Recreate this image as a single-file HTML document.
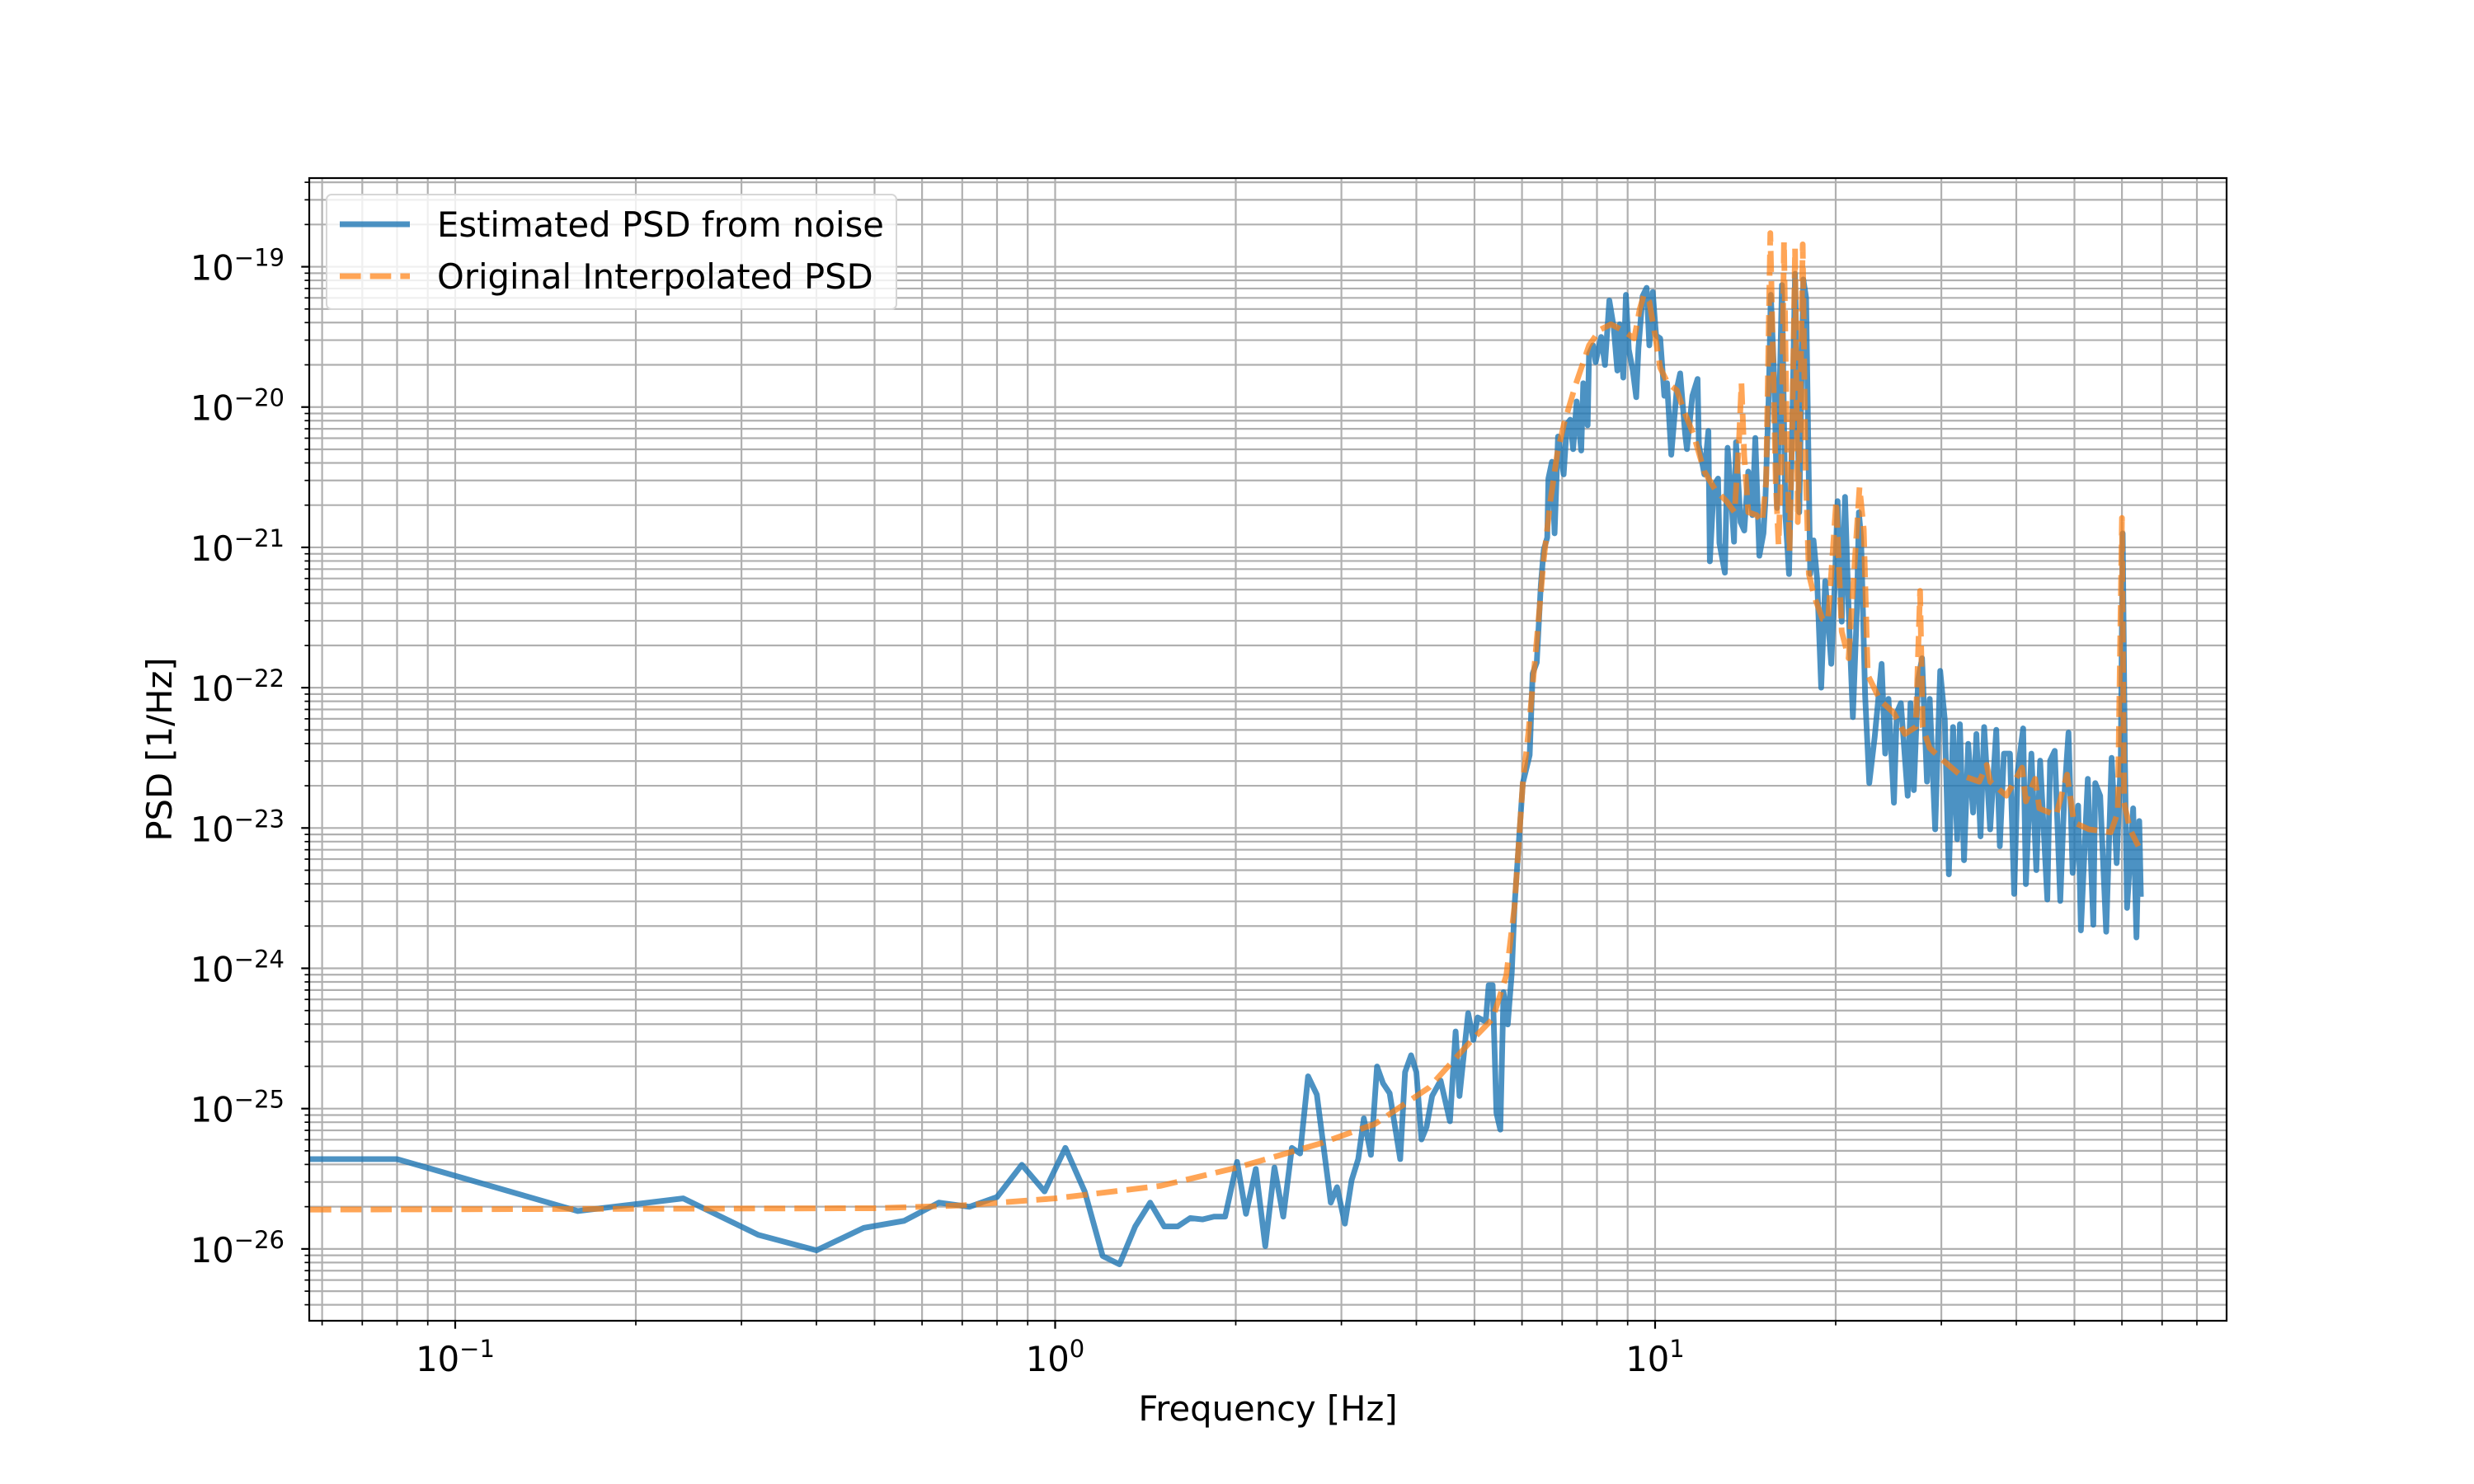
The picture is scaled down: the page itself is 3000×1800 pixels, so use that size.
<!DOCTYPE html>
<html><head><meta charset="utf-8"><style>
html,body{margin:0;padding:0;background:#fff;}
svg{display:block;font-family:"DejaVu Sans","Liberation Sans",sans-serif;}
</style></head><body>
<svg id="chart" width="3000" height="1800" viewBox="0 0 3000 1800" xmlns="http://www.w3.org/2000/svg">
<rect x="0" y="0" width="3000" height="1800" fill="#fff"/>
<g id="grid"></g>
<g id="plot" clip-path="url(#clip)"></g>
<defs><clipPath id="clip"><rect x="375" y="216" width="2325" height="1386"/></clipPath></defs>
<g id="ticks"></g>
<rect x="375" y="216" width="2325" height="1386" fill="none" stroke="#000" stroke-width="2.2"/>
<text x="1537.5" y="1723" font-size="41.7" text-anchor="middle">Frequency [Hz]</text>
<text x="0" y="0" font-size="41.7" text-anchor="middle" transform="translate(208,909) rotate(-90)">PSD [1/Hz]</text>
<g>
<rect x="396" y="236" width="691" height="139" rx="6" fill="#fff" fill-opacity="0.8" stroke="#d6d6d6" stroke-width="2"/>
<line x1="412" y1="272" x2="497" y2="272" stroke="#1f77b4" stroke-opacity="0.8" stroke-width="6.9"/>
<text x="530" y="287" font-size="41.7">Estimated PSD from noise</text>
<line x1="412" y1="335" x2="497" y2="335" stroke="#ff7f0e" stroke-opacity="0.7" stroke-width="6.9" stroke-dasharray="25.6,11.1"/>
<text x="530" y="350" font-size="41.7">Original Interpolated PSD</text>
</g>
</svg>
<script>
const blueFreq=[0.0573,0.08,0.16,0.24,0.32,0.40,0.48,0.56,0.64,0.72,0.80,0.88,0.96,1.04,1.12,1.20,1.28,1.36,1.44,1.52,1.60,1.68,1.76,1.84,1.92,
2.01,2.08,2.16,2.24,2.32,2.40,2.48,2.56,2.64,2.73,2.88,2.95,3.04,3.12,3.20,3.27,3.36,3.44,3.52,3.61,3.76,3.83,3.92,4.00,4.08,4.16,4.25,4.39,4.55,4.65,4.72,4.88,4.98,5.06,5.22,5.28,5.36,5.44,5.52,5.59,5.68,5.77,5.83,
6.02,6.18,6.25,6.35,6.45,6.52,6.61,6.64,6.73,6.80,6.89,7.04,7.13,7.22,7.30,7.40,7.53,7.59,7.72,7.76,7.88,7.96,8.05,8.13,8.25,8.39,8.53,8.65,8.73,8.85,8.94,9.04,9.18,9.30,9.38,9.53,9.68,9.78,9.91,10.04,10.20,10.36,10.47,10.64,10.87,11.01,11.22,11.30,11.54,11.77,11.83,12.08,12.27,12.34,12.53,12.73,12.80,13.07,13.21,13.35,13.54,13.64,13.88,14.08,14.30,14.53,14.69,14.92,15.16,15.27,15.48,15.59,15.81,15.97,16.27,16.49,16.72,16.93,17.11,17.39,17.66,17.85,18.14,18.37,18.62,18.92,19.21,19.66,19.94,20.15,20.47,20.73,21.02,21.36,21.70,21.86,22.04,22.39,22.75,23.23,23.86,24.18,24.49,25.01,25.28,25.68,26.37,26.65,26.99,27.45,27.86,28.39,28.69,29.30,29.87,30.40,30.88,31.38,31.88,32.22,32.73,33.26,33.89,34.32,34.87,35.36,36.18,37.04,37.55,38.15,39.04,39.67,40.22,41.07,41.50,42.39,43.20,43.84,45.06,45.54,46.36,47.35,48.10,48.87,49.66,50.72,51.26,52.63,53.76,54.16,55.19,56.49,57.68,58.80,59.74,60.18,60.68,61.20,62.64,63.44,64.12,64.52];
const blueLogPsd=[-25.36,-25.36,-25.73,-25.64,-25.90,-26.01,-25.85,-25.80,-25.67,-25.70,-25.63,-25.40,-25.59,-25.28,-25.59,-26.05,-26.11,-25.84,-25.67,-25.84,-25.84,-25.78,-25.79,-25.77,-25.77,
-25.38,-25.75,-25.43,-25.98,-25.42,-25.77,-25.28,-25.32,-24.77,-24.90,-25.67,-25.56,-25.82,-25.51,-25.36,-25.07,-25.33,-24.70,-24.82,-24.89,-25.36,-24.74,-24.62,-24.74,-25.22,-25.13,-24.91,-24.80,-25.09,-24.45,-24.91,-24.32,-24.51,-24.35,-24.38,-24.12,-24.12,-25.03,-25.15,-24.17,-24.40,-24.03,-23.56,
-22.68,-22.48,-21.90,-21.82,-21.27,-21.02,-20.93,-20.51,-20.39,-20.90,-20.21,-20.48,-20.12,-20.09,-20.30,-19.96,-20.31,-19.83,-20.13,-19.62,-19.56,-19.68,-19.58,-19.50,-19.70,-19.24,-19.43,-19.74,-19.41,-19.79,-19.20,-19.59,-19.74,-19.93,-19.58,-19.21,-19.15,-19.56,-19.18,-19.49,-19.51,-19.92,-19.83,-20.34,-19.87,-19.76,-20.19,-20.30,-19.92,-19.80,-20.27,-20.48,-20.17,-21.10,-20.56,-20.51,-20.97,-21.18,-20.29,-20.56,-20.96,-20.25,-20.82,-20.88,-20.46,-20.77,-20.22,-21.06,-20.90,-20.67,-19.88,-19.20,-19.83,-20.72,-19.13,-20.77,-21.19,-20.14,-19.05,-20.75,-19.09,-19.22,-21.19,-20.95,-21.22,-22.00,-21.24,-21.83,-21.24,-20.67,-21.53,-20.64,-21.45,-22.21,-21.43,-20.75,-20.93,-22.06,-22.68,-22.35,-21.83,-22.47,-22.08,-22.82,-22.18,-22.11,-22.77,-22.11,-22.73,-21.94,-21.79,-22.67,-22.08,-23.01,-21.88,-22.23,-23.33,-22.28,-23.08,-22.26,-23.23,-22.40,-22.89,-22.33,-23.06,-22.28,-23.01,-22.30,-23.13,-22.47,-22.47,-23.47,-22.60,-22.29,-23.40,-22.47,-23.30,-22.52,-23.51,-22.52,-22.45,-23.52,-22.77,-22.32,-23.32,-22.84,-23.73,-22.65,-23.69,-22.68,-22.77,-23.74,-22.50,-23.25,-22.50,-20.90,-22.52,-23.57,-22.86,-23.78,-22.95,-23.47];
const origFreq=[0.0573,0.5,0.7,1.0,1.5,2.01,2.76,3.41,4.20,4.93,5.36,5.65,5.83,6.02,6.15,6.35,6.52,6.69,6.87,7.05,7.36,7.76,8.09,8.44,8.80,9.23,9.43,9.58,9.78,10.0,10.2,10.5,10.87,11.2,11.58,12.08,12.6,13.15,13.57,13.79,13.93,14.08,14.3,14.76,15.08,15.31,15.56,15.72,15.89,16.06,16.23,16.40,16.57,16.75,16.93,17.11,17.29,17.47,17.62,17.81,18.04,18.42,19.01,19.42,20.04,20.47,21.01,21.92,22.27,22.62,23.72,25.0,26.08,27.2,27.65,27.93,28.68,30.24,32.2,34.7,35.7,36.2,38.5,40.9,41.5,43.0,43.7,46.6,48.6,49.9,52.9,57.5,59.05,60.0,60.5,61.9,63.9];
const origLogPsd=[-25.72,-25.71,-25.69,-25.64,-25.55,-25.42,-25.25,-25.11,-24.85,-24.52,-24.36,-24.05,-23.56,-22.68,-22.32,-21.66,-21.09,-20.67,-20.33,-20.12,-19.85,-19.56,-19.45,-19.41,-19.45,-19.51,-19.30,-19.20,-19.25,-19.49,-19.72,-19.83,-19.88,-20.04,-20.19,-20.46,-20.59,-20.67,-20.75,-20.27,-19.83,-20.35,-20.75,-20.77,-20.82,-20.54,-18.76,-19.62,-20.54,-20.98,-20.40,-18.82,-20.14,-21.03,-20.14,-18.87,-20.82,-19.88,-18.84,-20.40,-21.19,-21.35,-21.51,-21.52,-20.67,-21.60,-21.79,-20.57,-20.87,-21.91,-22.09,-22.18,-22.33,-22.28,-21.31,-22.28,-22.43,-22.52,-22.62,-22.67,-22.55,-22.67,-22.77,-22.57,-22.81,-22.65,-22.86,-22.91,-22.62,-22.96,-23.01,-23.03,-22.89,-20.79,-22.82,-23.01,-23.13];
const xTickExps=[-1,0,1];
const yTickExps=[-26,-25,-24,-23,-22,-21,-20,-19];

const NS="http://www.w3.org/2000/svg";
const L=375,R=2700,T=216,B=1602;
const xLogMin=-1.2433,xLogMax=1.9526,yLogMin=-26.512,yLogMax=-18.368;
function xs(f){return L+(Math.log10(f)-xLogMin)/(xLogMax-xLogMin)*(R-L);}
function ys(lp){return B-(lp-yLogMin)/(yLogMax-yLogMin)*(B-T);}
function mk(tag,attrs,parent){const e=document.createElementNS(NS,tag);for(const k in attrs)e.setAttribute(k,attrs[k]);parent.appendChild(e);return e;}
const grid=document.getElementById('grid'),ticks=document.getElementById('ticks'),plot=document.getElementById('plot');

for(let e=-2;e<=2;e++){for(let m=1;m<=9;m++){const f=m*Math.pow(10,e);const lg=Math.log10(f);if(lg<xLogMin||lg>xLogMax)continue;const x=xs(f);
const g=mk('line',{x1:x,x2:x,y1:T,y2:B,stroke:'#b0b0b0','stroke-width':2.2},grid);


const t=mk('line',{x1:x,x2:x,y1:B,y2:B+(m===1?9.7:5.6),stroke:'#000','stroke-width':m===1?2.2:1.7},ticks);


}}
for(let e=-27;e<=-18;e++){for(let m=1;m<=9;m++){const lp=e+Math.log10(m);if(lp<yLogMin||lp>yLogMax)continue;const y=ys(lp);
const g=mk('line',{x1:L,x2:R,y1:y,y2:y,stroke:'#b0b0b0','stroke-width':2.2},grid);


const t=mk('line',{x1:L-(m===1?9.7:5.6),x2:L,y1:y,y2:y,stroke:'#000','stroke-width':m===1?2.2:1.7},ticks);


}}
xTickExps.forEach(e=>{const x=xs(Math.pow(10,e));
const t=mk('text',{x:x,y:1663,'font-size':41.7,'text-anchor':'middle'},ticks);


const a=document.createElementNS(NS,'tspan');a.textContent='10';t.appendChild(a);
const b=document.createElementNS(NS,'tspan');b.setAttribute('dy','-17');b.setAttribute('font-size','29');b.textContent=(e<0?'\u2212':'')+Math.abs(e);t.appendChild(b);
});
yTickExps.forEach(e=>{const y=ys(e);
const t=mk('text',{x:345,y:y+16,'font-size':41.7,'text-anchor':'end'},ticks);


const a=document.createElementNS(NS,'tspan');a.textContent='10';t.appendChild(a);
const b=document.createElementNS(NS,'tspan');b.setAttribute('dy','-17');b.setAttribute('font-size','29');b.textContent='\u2212'+Math.abs(e);t.appendChild(b);
});
function pts(fa,la){return fa.map((f,i)=>xs(f).toFixed(1)+','+ys(la[i]).toFixed(1)).join(' ');}
const bl=mk('polyline',{points:pts(blueFreq,blueLogPsd),fill:'none',stroke:'#1f77b4','stroke-opacity':0.8,'stroke-width':6.9,'stroke-linejoin':'round','stroke-linecap':'square'},plot);


const ol=mk('polyline',{points:pts(origFreq,origLogPsd),fill:'none',stroke:'#ff7f0e','stroke-opacity':0.7,'stroke-width':6.9,'stroke-dasharray':'25.6,11.1','stroke-linejoin':'round'},plot);


</script>
</body></html>
